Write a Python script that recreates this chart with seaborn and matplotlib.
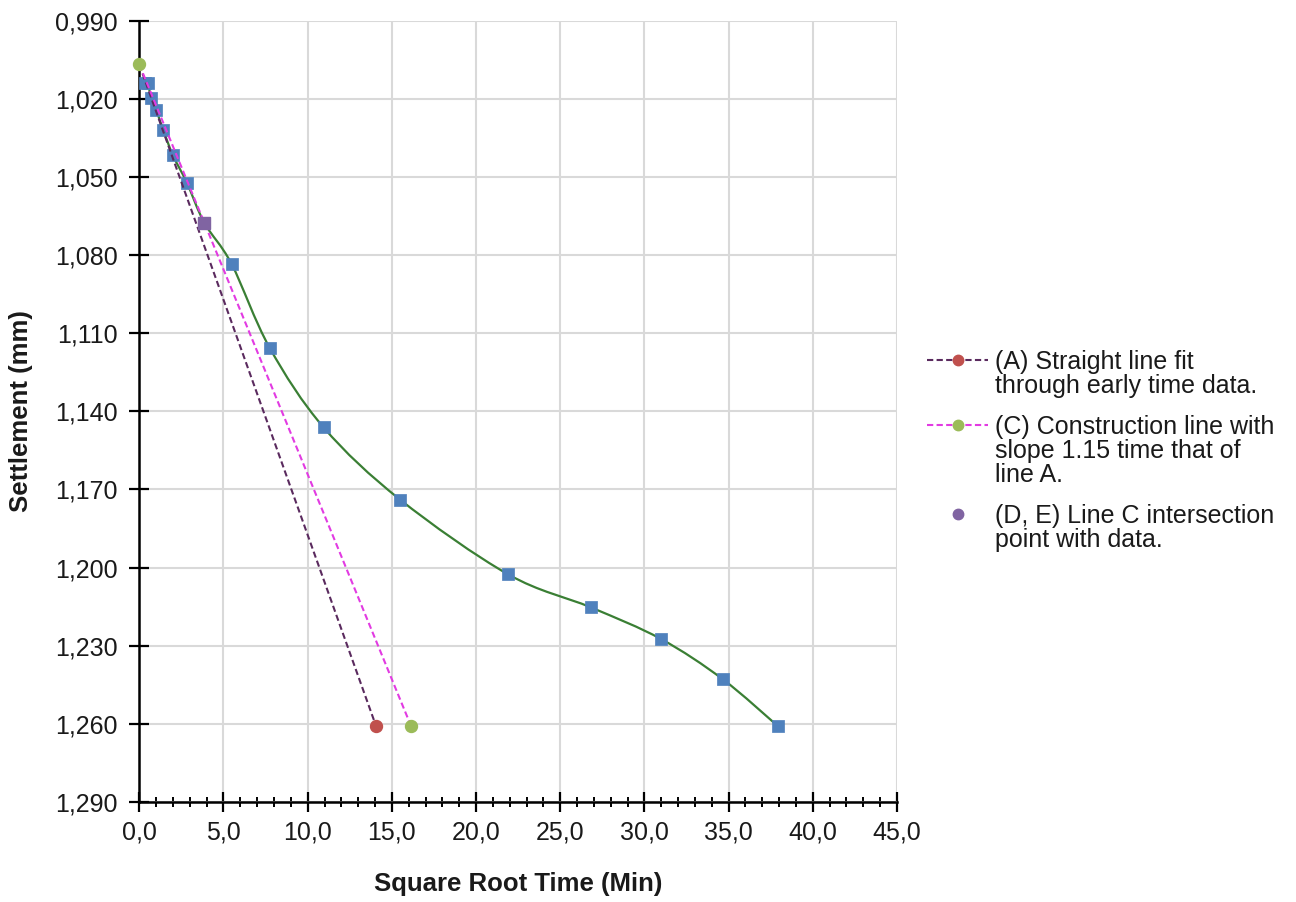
import matplotlib
matplotlib.use("Agg")
import matplotlib.pyplot as plt
from matplotlib.path import Path
from matplotlib.patches import PathPatch
from matplotlib.lines import Line2D
from matplotlib.ticker import FixedLocator, MultipleLocator
import numpy as np
import pandas as pd
import seaborn as sns

# ---------------- data ----------------
sqrt_time = [0.32, 0.50, 0.71, 1.00, 1.41, 2.00, 2.83, 3.87, 5.48, 7.75,
             10.95, 15.49, 21.91, 26.83, 30.98, 34.64, 37.95]
settlement = [1.0139, 1.0140, 1.0198, 1.0241, 1.0318, 1.0417, 1.0523, 1.0677,
              1.0834, 1.1157, 1.1462, 1.1739, 1.2026, 1.2153, 1.2274, 1.2428, 1.2610]

line_a_x = [0.0, 14.07]
line_a_y = [1.0068, 1.2610]
line_c_x = [0.0, 16.15]
line_c_y = [1.0068, 1.2610]
point_de_x = [3.87]
point_de_y = [1.0677]

x_ticks = [0, 5, 10, 15, 20, 25, 30, 35, 40, 45]
x_tick_labels = ["0,0", "5,0", "10,0", "15,0", "20,0", "25,0", "30,0", "35,0", "40,0", "45,0"]
y_ticks = [0.990, 1.020, 1.050, 1.080, 1.110, 1.140, 1.170, 1.200, 1.230, 1.260, 1.290]
y_tick_labels = ["0,990", "1,020", "1,050", "1,080", "1,110", "1,140", "1,170",
                 "1,200", "1,230", "1,260", "1,290"]

legend_labels = ["(A) Straight line fit\nthrough early time data.",
                 "(C) Construction line with\nslope 1.15 time that of\nline A.",
                 "(D, E) Line C intersection\npoint with data."]

x_label = "Square Root Time (Min)"
y_label = "Settlement (mm)"

# ---------------- style ----------------
sns.set_style("white")
plt.rcParams["font.family"] = ["Liberation Sans", "DejaVu Sans"]

BLUE = "#4F81BD"
RED = "#C0504D"
OLIVE = "#9BBB59"
PURPLE = "#8064A2"
DARK_PURPLE = "#5A2A5E"
MAGENTA = "#E23BE2"
CURVE_GREEN = "#3A7F34"
GRID = "#D9D9D9"
TEXT = "#1a1a1a"

fig = plt.figure(figsize=(12.96, 9.02), dpi=100)
ax = fig.add_axes([139.3 / 1296, 1 - 802 / 902, (897 - 139.3) / 1296, (802 - 20.7) / 902])

ax.set_xlim(0, 45)
ax.set_ylim(1.290, 0.990)

# smoothed data curve (Excel style Bezier smoothing through the data points)
pts = np.column_stack([sqrt_time, settlement])
n = len(pts)
verts = [pts[0]]
codes = [Path.MOVETO]
for i in range(n - 1):
    p_prev = pts[i - 1] if i > 0 else pts[i]
    p_next2 = pts[i + 2] if i + 2 < n else pts[i + 1]
    c1 = pts[i] + (pts[i + 1] - p_prev) / 6.0
    c2 = pts[i + 1] - (p_next2 - pts[i]) / 6.0
    verts += [c1, c2, pts[i + 1]]
    codes += [Path.CURVE4] * 3
ax.add_patch(PathPatch(Path(verts, codes), fill=False, edgecolor=CURVE_GREEN,
                       lw=1.6, zorder=3))

df = pd.DataFrame({"x": sqrt_time, "y": settlement})
sns.scatterplot(data=df, x="x", y="y", ax=ax, marker="s", s=78, color=BLUE,
                edgecolor=BLUE, linewidth=0.5, zorder=4, clip_on=False, legend=False)

dash = (0, (3.0, 1.6))
sns.lineplot(x=line_a_x, y=line_a_y, ax=ax, color=DARK_PURPLE, lw=1.5,
             linestyle=dash, zorder=5, sort=False, estimator=None)
sns.lineplot(x=line_c_x, y=line_c_y, ax=ax, color=MAGENTA, lw=1.5,
             linestyle=dash, zorder=5, sort=False, estimator=None)
ax.plot(line_a_x[-1:], line_a_y[-1:], "o", color=RED, ms=8.6, zorder=6, clip_on=False)
ax.plot(line_c_x, line_c_y, "o", color=OLIVE, ms=8.6, zorder=7, clip_on=False)
ax.plot(point_de_x, point_de_y, "s", color=PURPLE, ms=9, zorder=6, clip_on=False)

# ---------------- axes styling ----------------
ax.xaxis.set_major_locator(FixedLocator(x_ticks))
ax.xaxis.set_minor_locator(MultipleLocator(1))
ax.set_xticklabels(x_tick_labels)
ax.yaxis.set_major_locator(FixedLocator(y_ticks))
ax.set_yticklabels(y_tick_labels)

ax.grid(True, which="major", color=GRID, lw=1.5, zorder=0)
ax.set_axisbelow(True)
for s in ["top", "right"]:
    ax.spines[s].set_visible(False)
for s in ["left", "bottom"]:
    ax.spines[s].set_color("black")
    ax.spines[s].set_linewidth(1.8)

ax.tick_params(axis="both", which="both", bottom=True, left=True, top=False, right=False)
ax.tick_params(axis="both", which="major", direction="inout", length=14.5,
               width=1.6, color="black", labelsize=18, labelcolor=TEXT)
ax.tick_params(axis="x", which="minor", direction="inout", length=7.2,
               width=1.4, color="black")
ax.tick_params(axis="x", which="major", pad=6)
ax.tick_params(axis="y", which="major", pad=8)

ax.set_xlabel(x_label, fontsize=18.5, fontweight="bold", color=TEXT)
ax.set_ylabel(y_label, fontsize=18.5, fontweight="bold", color=TEXT)
ax.xaxis.set_label_coords(0.5, -(872 - 802) / 781.3)
ax.yaxis.set_label_coords(-(139.3 - 33) / 757.7, 0.5)

# ---------------- legend ----------------
handles = [
    Line2D([], [], color=DARK_PURPLE, lw=1.5, linestyle=dash, marker="o",
           markerfacecolor=RED, markeredgecolor=RED, ms=7.5),
    Line2D([], [], color=MAGENTA, lw=1.5, linestyle=dash, marker="o",
           markerfacecolor=OLIVE, markeredgecolor=OLIVE, ms=7.5),
    Line2D([], [], color=PURPLE, lw=0, marker="o", markerfacecolor=PURPLE,
           markeredgecolor=PURPLE, ms=7.5),
]
LFS = 18
leg = fig.legend(handles, legend_labels, loc="upper left",
                 bbox_to_anchor=(927 / 1296, 1 - 350 / 902), frameon=False,
                 fontsize=LFS, handlelength=61 / 25.0, handletextpad=0.28,
                 handleheight=1.0, labelspacing=0.7, borderpad=0, borderaxespad=0)
for t in leg.get_texts():
    t.set_linespacing(0.99)
    t.set_color(TEXT)
# align each handle with the first line of its (multi-line) label
for col in leg._legend_handle_box.get_children():
    for hp in col.get_children():
        hp.align = "top"

fig.savefig("out.png", dpi=100)
